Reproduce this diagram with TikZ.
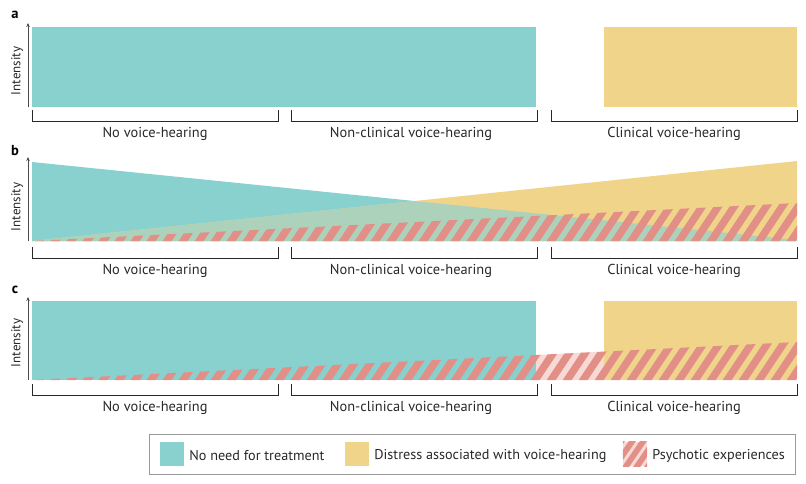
\documentclass[tikz,border=0pt]{standalone}
\usepackage{fontspec}
\setmainfont{PT Sans}
\usetikzlibrary{arrows.meta,positioning}

\definecolor{needteal}{RGB}{137,209,207}
\definecolor{distress}{RGB}{240,212,138}
\definecolor{overlap}{RGB}{172,210,188}
\definecolor{psyred}{RGB}{226,143,136}
\definecolor{psypink}{RGB}{247,218,213}
\definecolor{inkgray}{RGB}{40,40,40}

\tikzset{
  axis/.style={draw=black!70, line width=0.8pt, -{Stealth[length=4pt,width=3.5pt]}},
  brace/.style={draw=inkgray, line width=0.9pt},
  phase/.style={font=\fontsize{14.4}{16}\selectfont, text=inkgray},
  ylab/.style={font=\fontsize{13}{15}\selectfont, text=inkgray, rotate=90},
  panel/.style={font=\bfseries\fontsize{14.5}{16}\selectfont, anchor=base},
  swatch/.style={minimum width=24pt, minimum height=24pt, inner sep=0pt},
  legtext/.style={font=\fontsize{14.2}{16}\selectfont, text=inkgray, inner sep=0pt, yshift=-2pt},
  stripe/.style={fill=psyred}
}

\begin{document}
\begin{tikzpicture}[x=1pt, y=-1pt]
    \useasboundingbox (0,0) rectangle (806,483);

    % panel a
    \node[panel] (lbla) at (15,18) {a};
    \fill[needteal] (32,27) rectangle (536,107);
    \fill[distress] (604,27) rectangle (797,107);

    % panel b
    \node[panel] (lblb) at (15,155) {b};
    \fill[needteal] (32,162) -- (797,240) -- (797,241) -- (32,241) -- cycle;
    \fill[distress] (32,241) -- (797,161) -- (797,241) -- cycle;
    \fill[overlap] (32,241) -- (414.5,201) -- (797,240) -- (797,241) -- cycle;
    \begin{scope}
        \clip (32,241) -- (797,203) -- (797,241) -- cycle;
        \foreach \s in {-16,0,...,800}
            \fill[stripe] (\s,245) -- ++(9,0) -- ++(30,-45) -- ++(-9,0) -- cycle;
    \end{scope}

    % panel c
    \node[panel] (lblc) at (15,293) {c};
    \fill[needteal] (32,301) rectangle (536,380);
    \fill[distress] (604,301) rectangle (797,380);
    \begin{scope}
        \clip (32,380) -- (797,342) -- (797,380) -- cycle;
        \fill[psypink] (536,330) rectangle (604,380);
        \foreach \s in {-16,0,...,800}
            \fill[stripe] (\s,384) -- ++(9,0) -- ++(30,-45) -- ++(-9,0) -- cycle;
    \end{scope}

    % axes, brackets and phase labels
    \foreach \p/\ytop/\ybot/\ymid/\yb in {a/23/107/71/110, b/157/241/207/247, c/297/380/343/384}{
        \draw[axis] (28,\ybot) -- (28,\ytop);
        \node[ylab] (int\p) at (17,\ymid) {Intensity};
        \draw[brace] (32,\yb) -- ++(0,11) -| (278,\yb);
        \draw[brace] (291,\yb) -- ++(0,11) -| (537,\yb);
        \draw[brace] (551,\yb) -- ++(0,11) -| (797,\yb);
        \node[phase] (none\p) at (155,\yb+24) {No voice-hearing};
        \node[phase] (nonclin\p) at (411,\yb+24) {Non-clinical voice-hearing};
        \node[phase] (clin\p) at (674,\yb+24) {Clinical voice-hearing};
    }

    % legend
    \draw[draw=black!40, line width=0.8pt] (149,434) rectangle (795,474);
    \node[swatch, fill=needteal] (swneed) at (172,454) {};
    \node[legtext, right=5pt of swneed] (txneed) {No need for treatment};
    \node[swatch, fill=distress] (swdist) at (357,454) {};
    \node[legtext, right=5pt of swdist] (txdist) {Distress associated with voice-hearing};
    \node[swatch, fill=psypink] (swpsy) at (635,454) {};
    \begin{scope}
        \clip (swpsy.north west) rectangle (swpsy.south east);
        \foreach \s in {598,609,...,660}
            \fill[stripe] (\s,470) -- ++(7,0) -- ++(22,-32) -- ++(-7,0) -- cycle;
    \end{scope}
    \node[legtext, right=5pt of swpsy] (txpsy) {Psychotic experiences};
\end{tikzpicture}
\end{document}
